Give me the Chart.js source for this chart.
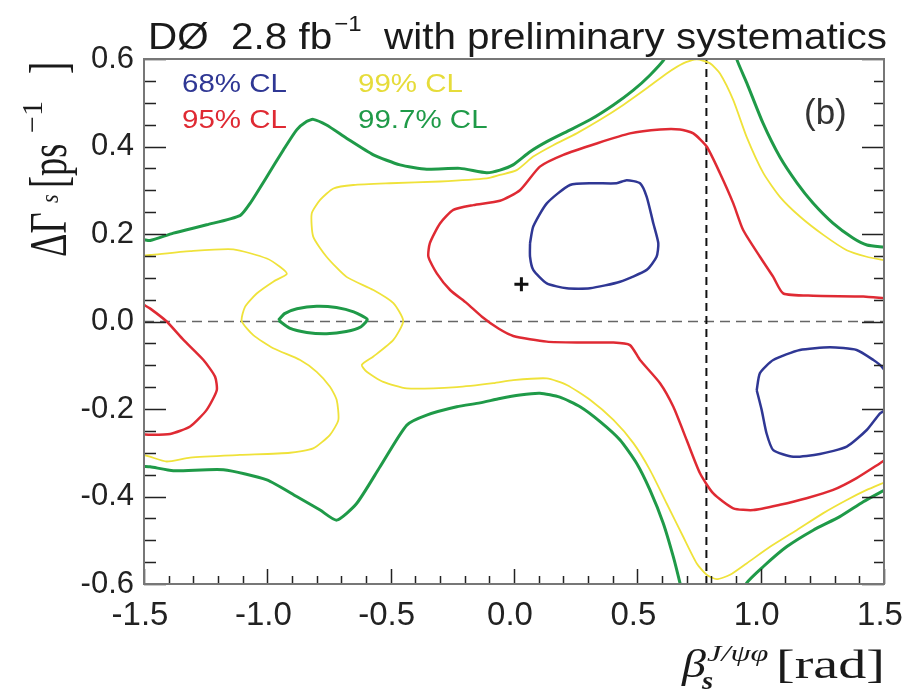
<!DOCTYPE html>
<html lang="en">
<head>
<meta charset="UTF-8">
<title>DØ beta_s - DeltaGamma_s contours</title>
<script src="https://cdn.jsdelivr.net/npm/chart.js"></script>
<style>
  body { margin: 0; background: #fff; }
  canvas { display: block; }
</style>
</head>
<body>
<canvas id="contourChart" width="908" height="697"></canvas>
<script>
// confidence level contours, [beta_s (rad), DeltaGamma_s (1/ps)]
const cl68Upper = [[0.065,0.179],[0.078,0.217],[0.133,0.270],[0.227,0.312],[0.321,0.316],[0.416,0.316],[0.457,0.323],[0.511,0.316],[0.538,0.285],[0.565,0.224],[0.585,0.179],[0.578,0.148],[0.538,0.118],[0.430,0.091],[0.308,0.076],[0.214,0.076],[0.133,0.087],[0.078,0.118],[0.065,0.148],[0.065,0.179]];
const cl68Lower = [[0.984,-0.157],[0.997,-0.118],[1.051,-0.088],[1.159,-0.065],[1.281,-0.059],[1.389,-0.065],[1.457,-0.088],[1.490,-0.103],[1.52,-0.13],[1.53,-0.16],[1.51,-0.20],[1.484,-0.210],[1.430,-0.248],[1.349,-0.286],[1.240,-0.303],[1.132,-0.309],[1.051,-0.294],[1.024,-0.256],[1.004,-0.202],[0.984,-0.157]];

const cl95Left = [[-1.5,0.038],[-1.476,0.030],[-1.408,0.000],[-1.340,-0.042],[-1.259,-0.088],[-1.212,-0.126],[-1.205,-0.157],[-1.246,-0.202],[-1.313,-0.240],[-1.394,-0.257],[-1.476,-0.259],[-1.5,-0.258]];
const cl95Main = [[1.5,0.053],[1.416,0.057],[1.213,0.059],[1.092,0.064],[1.051,0.102],[0.997,0.148],[0.929,0.209],[0.889,0.270],[0.835,0.339],[0.781,0.400],[0.727,0.430],[0.673,0.439],[0.592,0.439],[0.470,0.430],[0.335,0.407],[0.200,0.381],[0.105,0.354],[0.024,0.300],[-0.057,0.276],[-0.165,0.266],[-0.246,0.255],[-0.300,0.224],[-0.341,0.179],[-0.347,0.148],[-0.313,0.110],[-0.259,0.072],[-0.192,0.042],[-0.130,0.011],[-0.063,-0.016],[-0.003,-0.033],[0.133,-0.046],[0.268,-0.048],[0.403,-0.048],[0.470,-0.054],[0.511,-0.088],[0.592,-0.141],[0.646,-0.195],[0.700,-0.271],[0.754,-0.347],[0.808,-0.393],[0.889,-0.427],[0.970,-0.431],[1.078,-0.419],[1.186,-0.404],[1.294,-0.385],[1.389,-0.358],[1.484,-0.324],[1.5,-0.318]];

const cl99Left = [[-1.5,0.151],[-1.476,0.152],[-1.313,0.161],[-1.138,0.165],[-1.002,0.144],[-0.949,0.125],[-0.921,0.109],[-0.976,0.091],[-1.043,0.064],[-1.090,0.034],[-1.104,0.001],[-1.057,-0.031],[-0.976,-0.061],[-0.867,-0.088],[-0.800,-0.115],[-0.746,-0.149],[-0.719,-0.179],[-0.712,-0.225],[-0.746,-0.259],[-0.814,-0.290],[-0.908,-0.300],[-1.111,-0.305],[-1.313,-0.311],[-1.408,-0.320],[-1.476,-0.309],[-1.5,-0.305]];
const cl99Main = [[1.5,0.140],[1.430,0.148],[1.349,0.163],[1.254,0.198],[1.159,0.240],[1.078,0.285],[1.011,0.339],[0.943,0.422],[0.889,0.506],[0.835,0.567],[0.795,0.590],[0.741,0.599],[0.686,0.590],[0.619,0.567],[0.538,0.533],[0.443,0.495],[0.349,0.461],[0.254,0.430],[0.159,0.403],[0.078,0.377],[0.011,0.346],[-0.057,0.335],[-0.111,0.327],[-0.300,0.320],[-0.503,0.316],[-0.651,0.312],[-0.732,0.304],[-0.786,0.278],[-0.820,0.247],[-0.814,0.194],[-0.760,0.148],[-0.679,0.102],[-0.570,0.072],[-0.489,0.042],[-0.449,0.001],[-0.489,-0.042],[-0.570,-0.080],[-0.617,-0.099],[-0.597,-0.115],[-0.530,-0.138],[-0.435,-0.153],[-0.232,-0.150],[-0.084,-0.141],[-0.003,-0.134],[0.133,-0.130],[0.214,-0.145],[0.308,-0.179],[0.403,-0.225],[0.484,-0.278],[0.551,-0.339],[0.619,-0.416],[0.686,-0.492],[0.741,-0.553],[0.781,-0.579],[0.822,-0.589],[0.876,-0.579],[0.943,-0.553],[1.038,-0.515],[1.146,-0.477],[1.254,-0.438],[1.349,-0.408],[1.430,-0.385],[1.5,-0.368]];

const cl997Upper = [[-1.5,0.187],[-1.475,0.185],[-1.381,0.202],[-1.246,0.221],[-1.111,0.242],[-1.070,0.270],[-1.002,0.331],[-0.935,0.392],[-0.881,0.438],[-0.841,0.457],[-0.814,0.462],[-0.760,0.449],[-0.679,0.419],[-0.570,0.381],[-0.462,0.358],[-0.354,0.348],[-0.219,0.350],[-0.111,0.340],[-0.057,0.346],[-0.004,0.358],[0.065,0.388],[0.133,0.411],[0.214,0.434],[0.308,0.461],[0.403,0.495],[0.484,0.529],[0.551,0.563],[0.612,0.602],[0.63,0.64]];
const cl997UpperRight = [[0.88,0.65],[0.904,0.598],[0.944,0.545],[1.009,0.454],[1.078,0.376],[1.147,0.317],[1.212,0.271],[1.293,0.225],[1.374,0.191],[1.431,0.175],[1.5,0.170]];
const cl997Lower = [[-1.5,-0.331],[-1.475,-0.332],[-1.381,-0.341],[-1.178,-0.339],[-1.002,-0.362],[-0.881,-0.400],[-0.786,-0.431],[-0.719,-0.454],[-0.638,-0.416],[-0.543,-0.332],[-0.435,-0.237],[-0.354,-0.214],[-0.232,-0.195],[-0.138,-0.186],[-0.057,-0.176],[0.024,-0.168],[0.105,-0.164],[0.186,-0.173],[0.268,-0.195],[0.349,-0.229],[0.430,-0.271],[0.497,-0.324],[0.551,-0.385],[0.605,-0.461],[0.646,-0.538],[0.673,-0.598],[0.69,-0.64]];
const cl997LowerRight = [[0.92,-0.64],[0.943,-0.598],[1.011,-0.560],[1.105,-0.515],[1.213,-0.477],[1.321,-0.446],[1.416,-0.412],[1.5,-0.386]];
const cl997Island = [[-0.955,0.003],[-0.93,0.018],[-0.88,0.029],[-0.80,0.035],[-0.72,0.032],[-0.65,0.022],[-0.595,0.005],[-0.62,-0.012],[-0.68,-0.023],[-0.76,-0.028],[-0.84,-0.025],[-0.91,-0.015],[-0.955,0.003]];

const bestFit = [[0.03, 0.085]];
const betaSM = 0.78;
const clLabels = ['68% CL', '95% CL', '99% CL', '99.7% CL'];
const xTickLabels = ['-1.5', '-1.0', '-0.5', '0.0', '0.5', '1.0', '1.5'];
const yTickLabels = ['-0.6', '-0.4', '-0.2', '0.0', '0.2', '0.4', '0.6'];

const BLUE = '#2f3794', RED = '#df2a33', YELLOW = '#efe23a', GREEN = '#1f9a48';
const SANS = "'Liberation Sans', Arial, Helvetica, sans-serif";
const SERIF = "'Liberation Serif', 'Times New Roman', serif";

const pts = a => a.map(([x, y]) => ({ x, y }));

function contour(data, color, width) {
    return {
        data: pts(data),
        showLine: true,
        borderColor: color,
        borderWidth: width,
        pointRadius: 0,
        tension: 0.2,
        fill: false
    };
}

// draws text horizontally stretched by sx, returns drawn width
function stretchText(ctx, txt, x, y, font, sx, color) {
    ctx.save();
    ctx.font = font;
    ctx.fillStyle = color;
    ctx.textBaseline = 'alphabetic';
    ctx.textAlign = 'left';
    ctx.translate(x, y);
    ctx.scale(sx, 1);
    ctx.fillText(txt, 0, 0);
    const w = ctx.measureText(txt).width * sx;
    ctx.restore();
    return w;
}

// frame with inward ticks, titles and the CL labels
const framePlugin = {
    id: 'frame',
    afterDatasetsDraw(chart) {
        const { ctx, chartArea: a, scales: { x, y } } = chart;
        ctx.save();
        ctx.strokeStyle = '#222';
        ctx.lineWidth = 1.5;
        ctx.beginPath();
        for (let i = -15; i <= 15; i++) {
            const px = Math.round(x.getPixelForValue(i / 10)) + 0.5;
            const len = i % 5 === 0 ? 15 : 8;
            ctx.moveTo(px, a.bottom);
            ctx.lineTo(px, a.bottom - len);
        }
        for (let j = -12; j <= 12; j++) {
            const py = Math.round(y.getPixelForValue(j * 0.05)) + 0.5;
            const major = j % 4 === 0;
            ctx.moveTo(a.left, py);
            ctx.lineTo(a.left + (major ? 22 : 12), py);
            ctx.moveTo(a.right, py);
            ctx.lineTo(a.right - (major ? 22 : 10), py);
        }
        ctx.stroke();
        ctx.strokeStyle = '#777';
        ctx.lineWidth = 2;
        ctx.strokeRect(a.left, a.top, a.right - a.left, a.bottom - a.top);
        ctx.restore();
    },
    afterDraw(chart) {
        const ctx = chart.ctx;
        const ink = '#1a1a1a';

        // top title, fitted to the frame width
        const tFont = `37px ${SANS}`, sFont = `22px ${SANS}`;
        ctx.save();
        ctx.font = tFont;
        const w1 = ctx.measureText('DØ  2.8 fb').width;
        const w3 = ctx.measureText('  with preliminary systematics').width;
        ctx.font = sFont;
        const w2 = ctx.measureText('−1').width;
        ctx.restore();
        const sx = 737 / (w1 + w2 + w3);
        let tx = 148;
        tx += stretchText(ctx, 'DØ  2.8 fb', tx, 49, tFont, sx, ink);
        tx += stretchText(ctx, '−1', tx + 2, 31, sFont, sx, ink);
        stretchText(ctx, '  with preliminary systematics', tx + 2, 49, tFont, sx, ink);

        // CL labels inside the frame
        const lFont = `25px ${SANS}`;
        stretchText(ctx, clLabels[0], 182, 92, lFont, 1.18, BLUE);
        stretchText(ctx, clLabels[1], 182, 128, lFont, 1.18, RED);
        stretchText(ctx, clLabels[2], 358, 92, lFont, 1.18, '#e6dc3a');
        stretchText(ctx, clLabels[3], 358, 128, lFont, 1.18, GREEN);
        stretchText(ctx, '(b)', 804, 124, `35px ${SANS}`, 1, '#333');

        // y axis title, rotated
        ctx.save();
        ctx.translate(66, 257);
        ctx.rotate(-Math.PI / 2);
        stretchText(ctx, 'ΔΓ', 0, 0, `52px ${SERIF}`, 0.7, ink);
        stretchText(ctx, 's', 54, -8, `italic 26px ${SERIF}`, 0.85, ink);
        stretchText(ctx, '[ps', 69, 0, `52px ${SERIF}`, 0.7, ink);
        stretchText(ctx, '−1', 124, -24, `30px ${SERIF}`, 1, ink);
        stretchText(ctx, ']', 183, 0, `52px ${SERIF}`, 0.7, ink);
        ctx.restore();

        // x axis title
        stretchText(ctx, 'β', 682, 677, `italic 40px ${SERIF}`, 1.2, ink);
        stretchText(ctx, 's', 702, 689, `italic bold 26px ${SERIF}`, 1.1, ink);
        stretchText(ctx, 'J/ψφ', 707, 661, `italic 24px ${SERIF}`, 1.35, ink);
        stretchText(ctx, '[rad]', 776, 678, `40px ${SERIF}`, 1.4, ink);
    }
};

const ctx = document.getElementById('contourChart').getContext('2d');
new Chart(ctx, {
    type: 'scatter',
    data: {
        datasets: [
            {
                data: pts(bestFit),
                pointStyle: 'cross',
                pointRadius: 7,
                borderWidth: 3,
                borderColor: '#111'
            },
            contour(cl68Upper, BLUE, 2.5),
            contour(cl68Lower, BLUE, 2.5),
            contour(cl95Left, RED, 2.5),
            contour(cl95Main, RED, 2.5),
            contour(cl99Left, YELLOW, 1.8),
            contour(cl99Main, YELLOW, 1.8),
            contour(cl997Upper, GREEN, 3),
            contour(cl997UpperRight, GREEN, 3),
            contour(cl997Lower, GREEN, 3),
            contour(cl997LowerRight, GREEN, 3),
            contour(cl997Island, GREEN, 3),
            {
                data: pts([[betaSM, -0.6], [betaSM, 0.6]]),
                showLine: true, pointRadius: 0, borderWidth: 2,
                borderColor: '#111', borderDash: [8, 5]
            },
            {
                data: pts([[-1.5, 0], [1.5, 0]]),
                showLine: true, pointRadius: 0, borderWidth: 1.5,
                borderColor: '#666', borderDash: [10, 6]
            }
        ]
    },
    options: {
        responsive: false,
        animation: false,
        layout: { padding: { top: 59, right: 24, left: 0, bottom: 0 } },
        plugins: {
            legend: { display: false },
            tooltip: { enabled: false }
        },
        scales: {
            x: {
                type: 'linear',
                min: -1.5,
                max: 1.5,
                grid: { display: false, drawTicks: false },
                border: { display: false },
                ticks: {
                    stepSize: 0.5,
                    autoSkip: false,
                    maxRotation: 0,
                    padding: 12,
                    labelOffset: -4,
                    color: '#222',
                    font: { family: SANS, size: 33 },
                    callback: (v, i) => xTickLabels[i]
                },
                afterFit: s => { s.height = 113; s.paddingLeft = 0; s.paddingRight = 0; }
            },
            y: {
                min: -0.6,
                max: 0.6,
                grid: { display: false, drawTicks: false },
                border: { display: false },
                ticks: {
                    stepSize: 0.2,
                    autoSkip: false,
                    padding: 10,
                    color: '#222',
                    font: { family: SANS, size: 31 },
                    callback: (v, i) => yTickLabels[i]
                },
                afterFit: s => { s.width = 144; }
            }
        }
    },
    plugins: [framePlugin]
});
</script>
</body>
</html>
